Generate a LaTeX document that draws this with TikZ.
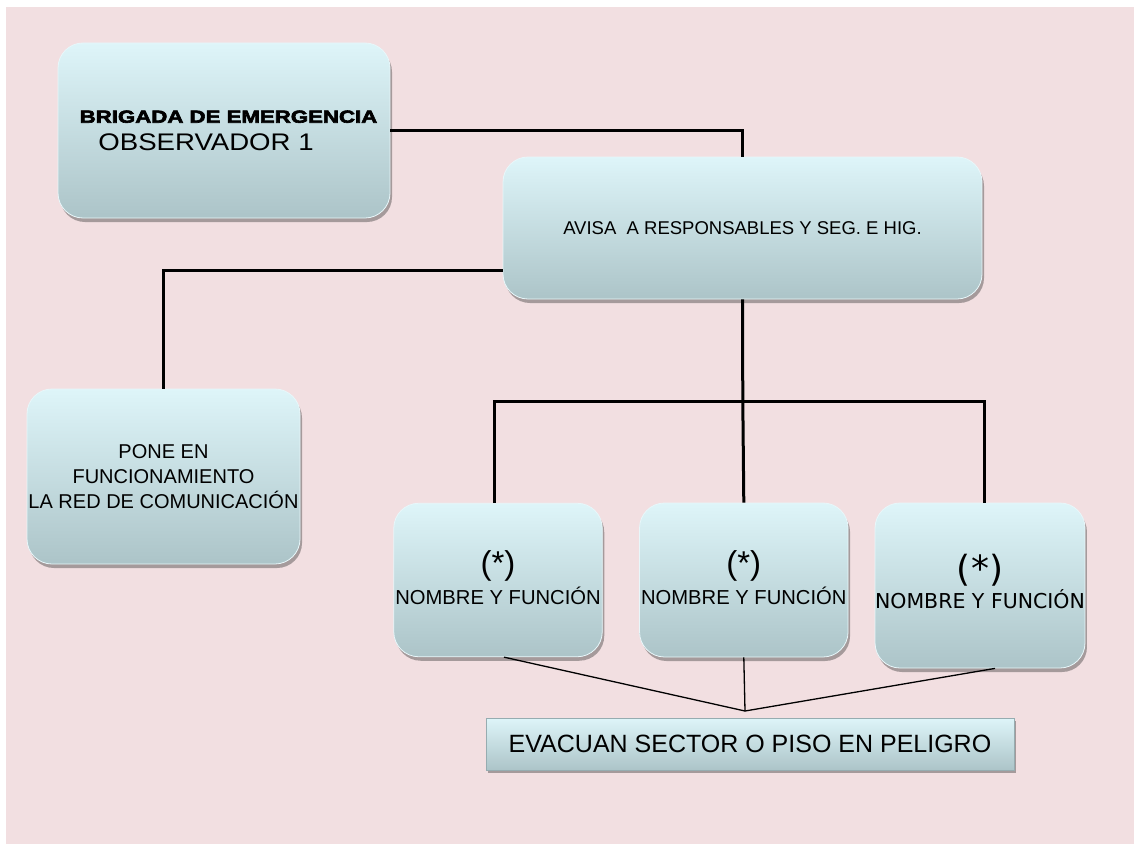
\documentclass[tikz,border=0pt]{standalone}
\usepackage{fontspec}
\usepackage{graphicx}
\setmainfont{Liberation Sans}
\newfontfamily\heavy[FakeStretch=1.27,BoldFeatures={FakeBold=3.5}]{Liberation Sans}
\newfontfamily\dejavu{DejaVu Sans}
\usetikzlibrary{shadows}
\definecolor{bg}{RGB}{242,223,225}
\definecolor{btop}{RGB}{222,245,249}
\definecolor{bbot}{RGB}{172,196,200}
\definecolor{bedge}{RGB}{232,247,250}
\definecolor{baredge}{RGB}{150,172,176}
\tikzset{
  card/.style={rectangle, rounded corners=25pt, top color=btop, bottom color=bbot,
    draw=bedge, line width=0.8pt, inner sep=0pt, align=center,
    drop shadow={shadow xshift=2pt, shadow yshift=-4pt, opacity=0.4, fill=black!80}},
  bar/.style={rectangle, top color=btop, bottom color=bbot, draw=baredge,
    line width=0.8pt, inner sep=0pt, align=center,
    drop shadow={shadow xshift=2pt, shadow yshift=-3pt, opacity=0.4, fill=black!80}},
  link/.style={line width=3pt, black},
  thinlink/.style={line width=1.3pt, black}
}
\begin{document}
\begin{tikzpicture}[x=1pt,y=-1pt]
\useasboundingbox (0,0) rectangle (1134,843);
\fill[white] (0,0) rectangle (1134,843);
\fill[bg] (6,7) rectangle (1145,850);

\node[card, minimum width=332pt, minimum height=175pt, font=\fontsize{24}{27.5}\selectfont] (b1) at (224,130.5)
  {\hspace*{9pt}{\heavy\bfseries\fontsize{17.5}{27.5}\selectfont BRIGADA DE EMERGENCIA}\\\scalebox{1.15}[1]{OBSERVADOR 1}\hspace*{36pt}};

\node[card, minimum width=479pt, minimum height=142pt, font=\fontsize{18.5}{22}\selectfont] (b2) at (742.5,228)
  {AVISA\ \ A RESPONSABLES Y SEG. E HIG.};

\node[card, minimum width=273pt, minimum height=175pt, font=\fontsize{20}{25}\selectfont] (b3) at (163.5,476.5)
  {PONE EN\\FUNCIONAMIENTO\\LA RED DE COMUNICACIÓN};

\node[card, minimum width=208.5pt, minimum height=153.5pt, font=\fontsize{20.2}{29.5}\selectfont] (b4) at (498,580)
  {{\fontsize{33}{29.5}\selectfont(*)}\\NOMBRE Y FUNCIÓN\rule[-5pt]{0pt}{5pt}};

\node[card, minimum width=208.5pt, minimum height=154pt, font=\fontsize{20.2}{29.5}\selectfont] (b5) at (743.8,580)
  {{\fontsize{33}{29.5}\selectfont(*)}\\NOMBRE Y FUNCIÓN\rule[-5pt]{0pt}{5pt}};

\node[card, minimum width=208.5pt, minimum height=165pt, font=\dejavu\fontsize{20.5}{27}\selectfont] (b6) at (980,585.5)
  {{\fontsize{36}{27}\selectfont(*)}\\NOMBRE Y FUNCIÓN\rule[-8pt]{0pt}{8pt}};

\node[bar, minimum width=528pt, minimum height=52pt, font=\fontsize{25}{30}\selectfont] (b7) at (750,744)
  {EVACUAN SECTOR O PISO EN PELIGRO};

\draw[link] (b1.east) -| (b2.north);
\draw[link] ([yshift=-42.7pt]b2.west) -| (b3.north);
\coordinate (j) at (742.8,401.7);
\draw[link] (b2.south) -- (j);
\draw[link] ([xshift=-3.4pt]b4.north) |- (j) -| ([xshift=4pt]b6.north);
\draw[link] (j) -- (b5.north);

\coordinate (k) at (745,711);
\draw[thinlink] ([xshift=6pt]b4.south) -- (k);
\draw[thinlink] (b5.south) -- (k);
\draw[thinlink] ([xshift=15pt]b6.south) -- (k);
\end{tikzpicture}
\end{document}
